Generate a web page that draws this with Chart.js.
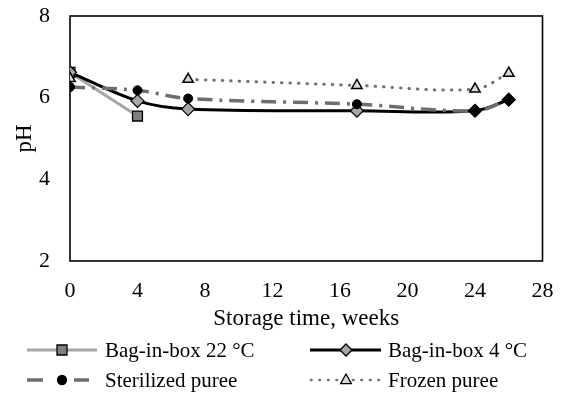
<!DOCTYPE html>
<html>
<head>
<meta charset="utf-8">
<script src="https://cdn.jsdelivr.net/npm/chart.js@4/dist/chart.umd.min.js"></script>
<style>
  html, body { margin: 0; padding: 0; background: #fff; }
  #wrap { width: 563px; height: 398px; }
</style>
</head>
<body>
<div id="wrap"><canvas id="phChart" width="563" height="398"></canvas></div>
<script>
// storage time (weeks) and pH readings per sample
const weeks = [0, 4, 7, 17, 24, 26];
const bib22 = [6.62, 5.55, null, null, null, null];
const bib4 = [6.62, 5.92, 5.72, 5.68, 5.68, 5.95];
const sterilized = [6.26, 6.18, 5.98, 5.84, 5.68, 5.95];
const frozen = [6.47, null, 6.45, 6.3, 6.21, 6.6];

const xTicks = [0, 4, 8, 12, 16, 20, 24, 28];
const yTicks = [2, 4, 6, 8];

const labels = ['Bag-in-box 22 °C', 'Bag-in-box 4 °C', 'Sterilized puree', 'Frozen puree'];

const FONT = 'Liberation Serif';

const toPoints = vals => weeks.map((w, i) => ({ x: w, y: vals[i] }));

function marker(ctx, style, x, y, r, fill) {
  ctx.save();
  ctx.fillStyle = fill;
  ctx.strokeStyle = '#000';
  ctx.lineWidth = 1.3;
  ctx.setLineDash([]);
  ctx.beginPath();
  if (style === 'rect') {
    ctx.rect(x - r, y - r, 2 * r, 2 * r);
  } else if (style === 'rectRot') {
    ctx.moveTo(x, y - r); ctx.lineTo(x + r, y); ctx.lineTo(x, y + r); ctx.lineTo(x - r, y);
    ctx.closePath();
  } else if (style === 'circle') {
    ctx.arc(x, y, r, 0, Math.PI * 2);
  } else if (style === 'triangle') {
    ctx.moveTo(x, y - r); ctx.lineTo(x + r * 0.9, y + r * 0.6); ctx.lineTo(x - r * 0.9, y + r * 0.6);
    ctx.closePath();
  }
  ctx.fill();
  ctx.stroke();
  ctx.restore();
}

// frame around the plot area
const frame = {
  id: 'frame',
  beforeDatasetsDraw(chart) {
    const a = chart.chartArea;
    const ctx = chart.ctx;
    ctx.save();
    ctx.strokeStyle = '#000';
    ctx.lineWidth = 1.6;
    ctx.strokeRect(a.left, a.top, a.right - a.left, a.bottom - a.top);
    ctx.restore();
  }
};

// excel-like legend: line + marker, two columns
const legend2 = {
  id: 'legend2',
  afterDraw(chart) {
    const ctx = chart.ctx;
    const items = [
      { segs: [[27, 97]], tx: 105, y: 350, color: '#a6a6a6', width: 3, cap: 'butt', dash: [], style: 'rect', mx: 62, r: 5, fill: '#7f7f7f' },
      { segs: [[310, 381]], tx: 388, y: 350, color: '#000', width: 3, cap: 'butt', dash: [], style: 'rectRot', mx: 346, r: 6, fill: '#a6a6a6' },
      { segs: [[27, 43], [74, 89]], tx: 105, y: 380, color: '#6e6e6e', width: 3.5, cap: 'butt', dash: [], style: 'circle', mx: 62, r: 4.5, fill: '#000' },
      { segs: [[311, 338], [353, 381]], tx: 388, y: 380, color: '#707070', width: 2.6, cap: 'round', dash: [0.5, 8], style: 'triangle', mx: 346, r: 6, fill: '#d9d9d9' }
    ];
    items.forEach((it, i) => {
      ctx.save();
      ctx.strokeStyle = it.color;
      ctx.lineWidth = it.width;
      ctx.lineCap = it.cap;
      ctx.setLineDash(it.dash);
      it.segs.forEach(([a, b]) => {
        ctx.beginPath();
        ctx.moveTo(a, it.y);
        ctx.lineTo(b, it.y);
        ctx.stroke();
      });
      ctx.restore();
      marker(ctx, it.style, it.mx, it.y, it.r, it.fill);
      ctx.save();
      ctx.fillStyle = '#000';
      ctx.font = '21px "' + FONT + '"';
      ctx.textBaseline = 'middle';
      ctx.textAlign = 'left';
      ctx.fillText(labels[i], it.tx, it.y + 1);
      ctx.restore();
    });
  }
};

new Chart(document.getElementById('phChart'), {
  type: 'line',
  data: {
    datasets: [
      {
        label: labels[0],
        data: toPoints(bib22),
        borderColor: '#a6a6a6',
        borderWidth: 3,
        pointStyle: 'rect',
        pointRadius: 7,
        pointBackgroundColor: '#7f7f7f',
        pointBorderColor: '#000',
        pointBorderWidth: 1.3,
        tension: 0.35,
        order: 3
      },
      {
        label: labels[1],
        data: toPoints(bib4),
        borderColor: '#000',
        borderWidth: 3,
        pointStyle: 'rectRot',
        pointRadius: 6.5,
        pointBackgroundColor: ['#a6a6a6', '#a6a6a6', '#a6a6a6', '#a6a6a6', '#000', '#000'],
        pointBorderColor: '#000',
        pointBorderWidth: 1.2,
        tension: 0.35,
        order: 2
      },
      {
        label: labels[2],
        data: toPoints(sterilized),
        borderColor: '#6e6e6e',
        borderWidth: 3.5,
        borderDash: [15, 7, 3, 7],
        pointStyle: 'circle',
        pointRadius: 4.5,
        pointBackgroundColor: '#000',
        pointBorderColor: '#000',
        pointBorderWidth: 1,
        tension: 0.35,
        order: 1
      },
      {
        label: labels[3],
        data: toPoints(frozen),
        borderColor: '#707070',
        borderWidth: 3,
        borderDash: [0.5, 8],
        borderCapStyle: 'round',
        pointStyle: 'triangle',
        pointRadius: 6,
        pointBackgroundColor: '#d9d9d9',
        pointBorderColor: '#000',
        pointBorderWidth: 1.5,
        tension: 0.35,
        order: 0
      }
    ]
  },
  options: {
    responsive: false,
    animation: false,
    layout: { padding: { top: 16, right: 20.5, left: 0, bottom: 0 } },
    plugins: {
      legend: { display: false },
      tooltip: { enabled: false }
    },
    scales: {
      x: {
        type: 'linear',
        min: 0,
        max: 28,
        afterFit: s => { s.height = 137; s.paddingLeft = 0; s.paddingRight = 0; },
        afterBuildTicks: s => { s.ticks = xTicks.map(v => ({ value: v })); },
        grid: { display: false, drawTicks: false },
        border: { display: false },
        ticks: { padding: 17, color: '#000', font: { family: FONT, size: 22 } },
        title: {
          display: true,
          text: 'Storage time, weeks',
          color: '#000',
          font: { family: FONT, size: 23 },
          padding: { top: 0, bottom: 65 }
        }
      },
      y: {
        min: 2,
        max: 8,
        afterFit: s => { s.width = 70; s.paddingTop = 0; s.paddingBottom = 0; },
        afterBuildTicks: s => { s.ticks = yTicks.map(v => ({ value: v })); },
        grid: { display: false, drawTicks: false },
        border: { display: false },
        ticks: { padding: 20, color: '#000', font: { family: FONT, size: 22 } },
        title: {
          display: true,
          text: 'pH',
          color: '#000',
          font: { family: FONT, size: 23 },
          padding: { top: 11, bottom: 0 }
        }
      }
    }
  },
  plugins: [frame, legend2]
});
</script>
</body>
</html>
